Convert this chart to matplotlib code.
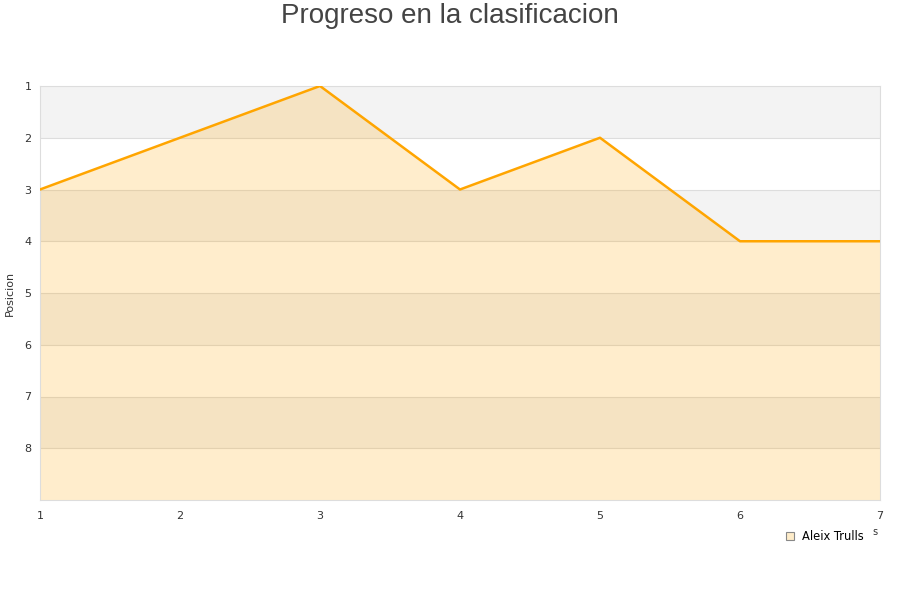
import matplotlib
matplotlib.use("Agg")
import matplotlib.pyplot as plt
from matplotlib.lines import Line2D

jornadas = [1, 2, 3, 4, 5, 6, 7]
posiciones = [3, 2, 1, 3, 2, 4, 4]
jugador = "Aleix Trulls"
y_ticks = [1, 2, 3, 4, 5, 6, 7, 8]

fig = plt.figure(figsize=(9, 6), dpi=100)
ax = fig.add_axes([40 / 900, 1 - 500 / 600, 840 / 900, 414 / 600])

# bandas alternas
for i in range(1, 9):
    color = "#f3f3f3" if i % 2 == 1 else "white"
    ax.axhspan(i, i + 1, color=color, zorder=0, lw=0)
for i in range(2, 9):
    ax.axhline(i, color="#dddddd", lw=0.8, zorder=1)

ax.fill_between(jornadas, posiciones, 9, color="#ffa500", alpha=0.2, lw=0, zorder=2)
ax.plot(jornadas, posiciones, color="#ffa500", lw=1.8, zorder=3)

ax.set_xlim(1, 7)
ax.set_ylim(9, 1)
ax.set_yticks(y_ticks)
ax.set_xticks(jornadas)
ax.tick_params(length=0, labelsize=8, colors="#333333")
ax.tick_params(axis="x", pad=8)
ax.tick_params(axis="y", pad=6)
for s in ax.spines.values():
    s.set_color("#dddddd")
    s.set_linewidth(0.8)

fig.text(10 / 900, 1 - 293 / 600, "Posicion", rotation=90, fontsize=8,
         color="#333333", ha="center", va="center")
fig.text(0.5, 1 - 16 / 600, "Progreso en la clasificacion", fontsize=20,
         family="Liberation Sans", color="#444444", ha="center", va="center")
fig.text(875 / 900, 1 - 532 / 600, "s", fontsize=7, color="#333333",
         ha="center", va="center")

handle = Line2D([], [], marker="s", linestyle="none", markersize=6,
                markerfacecolor="#feecc9", markeredgecolor="#888888",
                markeredgewidth=0.8)
fig.legend([handle], [jugador], loc="center", bbox_to_anchor=(824 / 900, 1 - 537 / 600),
           frameon=False, fontsize=8.3, handletextpad=0.5, handlelength=1)

fig.savefig("out.png", dpi=100)
